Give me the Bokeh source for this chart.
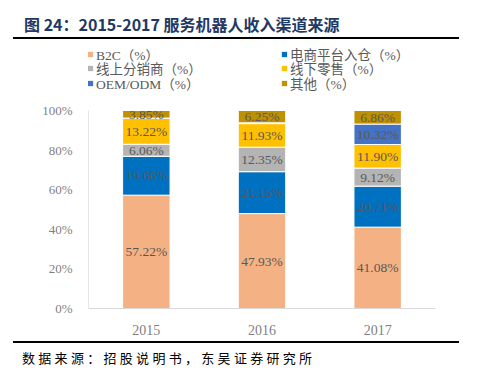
from bokeh.plotting import figure
from bokeh.models import (Range1d, FactorRange, FixedTicker, Legend, LegendItem,
                          Div, ColumnDataSource)
from bokeh.layouts import column
from bokeh.core.properties import value
from bokeh.embed import file_html
from bokeh.resources import INLINE

years = ["2015", "2016", "2017"]
series = ["B2C（%）", "电商平台入仓（%）", "线上分销商（%）", "线下零售（%）", "OEM/ODM（%）", "其他（%）"]
b2c = [57.22, 47.93, 41.08]
ecom = [19.66, 21.15, 20.71]
online = [6.06, 12.35, 9.12]
offline = [13.22, 11.93, 11.90]
oem = [0.0, 0.39, 10.32]
other = [3.85, 6.25, 6.86]
y_ticks = [0, 20, 40, 60, 80, 100]
colors = ["#F4B183", "#0070C0", "#B4B4B4", "#FFC000", "#4472C4", "#BF9000"]

title_text = "图 24：2015-2017 服务机器人收入渠道来源"
source_text = "数据来源：招股说明书，东吴证券研究所"

SERIF = "Liberation Serif, Noto Sans CJK SC"

all_series = [b2c, ecom, online, offline, oem, other]
keys = ["s%d" % i for i in range(len(all_series))]
data = {"years": years}
for k, s in zip(keys, all_series):
    data[k] = s
src = ColumnDataSource(data)

p = figure(width=479, height=300, x_range=FactorRange(factors=years, range_padding=0),
           y_range=Range1d(0, 132.8), output_backend="svg", toolbar_location=None,
           min_border_left=88, min_border_right=44, min_border_top=5, min_border_bottom=32)
p.outline_line_color = None
p.xgrid.grid_line_color = None
p.ygrid.grid_line_color = None

renderers = p.vbar_stack(keys, x="years", width=0.41, color=colors, source=src,
                         line_color="white", line_width=1)

# data labels
xs, ys, txt = [], [], []
for j, yr in enumerate(years):
    base = 0.0
    for s in all_series:
        v = s[j]
        if v > 1:
            xs.append(yr)
            ys.append(base + v / 2)
            txt.append("%.2f%%" % v)
        base += v
p.text(x=xs, y=ys, text=txt, text_align="center", text_baseline="middle",
       text_font_size="13.5px", text_color="#595959", text_font=value(SERIF))

p.yaxis.ticker = FixedTicker(ticks=y_ticks)
p.yaxis.major_label_overrides = {t: "%d%%" % t for t in y_ticks}
p.yaxis.bounds = (0, 100)
for ax in (p.xaxis, p.yaxis):
    ax.axis_line_color = "#D9D9D9"
    ax.major_tick_line_color = None
    ax.minor_tick_line_color = None
    ax.major_label_text_color = "#7F7F7F"
    ax.major_label_text_font = SERIF
    ax.major_label_standoff = 10
p.yaxis.major_label_text_font_size = "13px"
p.xaxis.major_label_text_font_size = "14px"
p.yaxis.axis_line_color = "#E6E6E6"

row_y = [244.5, 230, 215.5]
for i in range(len(series)):
    col, row = i % 2, i // 2
    lg = Legend(items=[LegendItem(label=series[i], renderers=[renderers[i]])],
                location=(-2 + col * 194, row_y[row]), orientation="vertical",
                glyph_width=8, glyph_height=8, label_standoff=2, spacing=0,
                label_height=14, padding=0, margin=0,
                label_text_font=SERIF, label_text_font_size="13.5px",
                label_text_color="#595959", border_line_color=None,
                background_fill_alpha=0)
    p.add_layout(lg)

title_html = (
    '<div style="position:relative;width:479px;height:40px;">'
    '<div style="position:absolute;left:24px;top:14px;font-family:\'Noto Sans CJK SC\';'
    'font-weight:bold;font-size:16px;line-height:20px;color:#1F3864;white-space:nowrap;">'
    + title_text + '</div>'
    '<div style="position:absolute;left:13px;top:37px;width:446px;height:2px;background:#000;"></div>'
    '</div>'
)
src_html = (
    '<div style="position:relative;width:479px;height:36px;">'
    '<div style="position:absolute;left:13px;top:1px;width:446px;height:2px;background:#000;"></div>'
    '<div style="position:absolute;left:22px;top:9px;font-family:\'Noto Sans CJK SC\';'
    'font-size:13px;line-height:18px;letter-spacing:3.3px;color:#000;white-space:nowrap;">'
    + source_text + '</div>'
    '</div>'
)
d1 = Div(text=title_html, width=479, height=40, margin=0, styles={"padding": "0"})
d2 = Div(text=src_html, width=479, height=36, margin=0, styles={"padding": "0"})

layout = column(d1, p, d2, spacing=0)
open("out.html", "w").write(file_html(layout, INLINE))
